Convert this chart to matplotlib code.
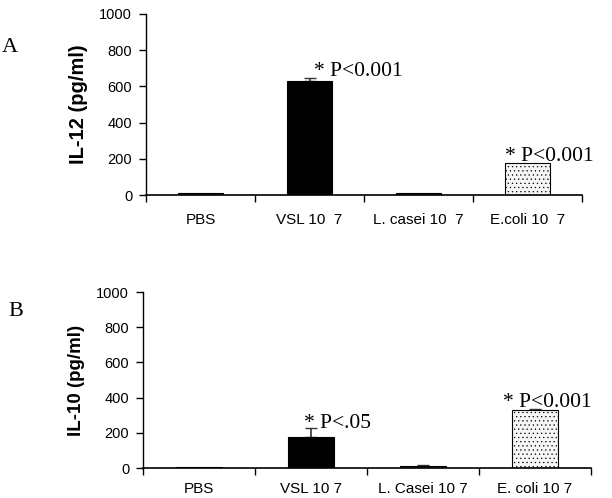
import matplotlib.pyplot as plt
import numpy as np

plt.rcParams['hatch.linewidth'] = 0.4
plt.rcParams['hatch.color'] = '#888888'

# data
labels_a = ['PBS', 'VSL 10  7', 'L. casei 10  7', 'E.coli 10  7']
il12 = [10, 632, 12, 177]
il12_err = [0, 15, 0, 0]
notes_a = ['', '* P<0.001', '', '* P<0.001']
note_x_a = [0, 0.04, 0, -0.21]
note_y_a = [0, 657, 0, 188]

labels_b = ['PBS', 'VSL 10 7', 'L. Casei 10 7', 'E. coli 10 7']
il10 = [3, 176, 10, 330]
il10_err = [0, 51, 5, 8]
notes_b = ['', '* P<.05', '', '* P<0.001']
note_x_b = [0, -0.06, 0, -0.29]
note_y_b = [0, 227, 0, 347]

colors = ['#555555', 'black', '#555555', '#f6f6f6']
hatches = [None, None, None, '....']

sans = 'Liberation Sans'
serif = 'Liberation Serif'


def panel(ax, labels, vals, err, notes, note_x, note_y, ylab, ysize, xpad):
    x = np.arange(len(vals))
    for i in range(len(vals)):
        ax.bar(x[i], vals[i], width=0.41, color=colors[i], edgecolor='black',
               linewidth=0.8, hatch=hatches[i], zorder=2)
        if err[i] > 0:
            ax.errorbar(x[i], vals[i], yerr=[[0], [err[i]]], fmt='none',
                        ecolor='#333333', elinewidth=1.2, capsize=4, zorder=1)
        if notes[i]:
            ax.text(x[i] + note_x[i], note_y[i], notes[i], fontsize=15.5,
                    family=serif, ha='left', va='baseline')
    ax.set_xlim(-0.5, len(vals) - 0.5)
    ax.set_ylim(0, 1000)
    ax.set_yticks([0, 200, 400, 600, 800, 1000])
    ax.set_xticks(x)
    ax.set_xticklabels(labels, family=sans, fontsize=11)
    ax.set_xticks(np.arange(-0.5, len(vals)), minor=True)
    ax.tick_params(axis='x', which='major', length=0, pad=xpad)
    ax.tick_params(axis='x', which='minor', length=5, width=1)
    ax.tick_params(axis='y', length=5, width=1, labelsize=10.5, pad=5)
    for t in ax.get_yticklabels():
        t.set_family(sans)
    ax.spines['top'].set_visible(False)
    ax.spines['right'].set_visible(False)
    ax.spines['left'].set_linewidth(1)
    ax.spines['bottom'].set_linewidth(1.2)
    ax.set_ylabel(ylab, family=sans, fontsize=ysize, fontweight='bold', labelpad=8)


fig = plt.figure(figsize=(6.12, 4.98), dpi=100)
ax1 = fig.add_axes([0.2386, 0.6084, 0.7124, 0.3635])
ax2 = fig.add_axes([0.2337, 0.0602, 0.732, 0.3534])

panel(ax1, labels_a, il12, il12_err, notes_a, note_x_a, note_y_a, 'IL-12 (pg/ml)', 14.5, 13)
panel(ax2, labels_b, il10, il10_err, notes_b, note_x_b, note_y_b, 'IL-10 (pg/ml)', 13.5, 10)

fig.text(0.003, 0.905, 'A', family=serif, fontsize=16, va='center')
fig.text(0.014, 0.375, 'B', family=serif, fontsize=16, va='center')

fig.savefig('out.png', dpi=100)
